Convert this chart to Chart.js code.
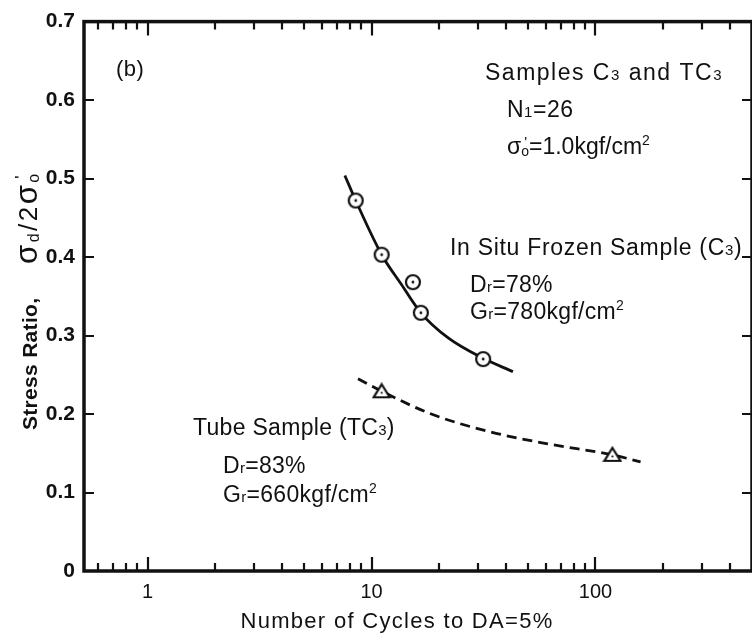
<!DOCTYPE html>
<html>
<head>
<meta charset="utf-8">
<script src="https://cdn.jsdelivr.net/npm/chart.js@4.4.1/dist/chart.umd.min.js"></script>
<style>
  html, body { margin: 0; padding: 0; background: #fff; overflow: hidden; }
  #wrap { width: 760px; height: 635px; }
</style>
</head>
<body>
<div id="wrap"><canvas id="chart" width="760" height="635"></canvas></div>
<script>
// values (x: cycles to DA=5%, y: stress ratio)
const c3Cycles = [8.5, 11.1, 15.3, 16.6, 31.5];
const c3Ratio = [0.472, 0.403, 0.368, 0.329, 0.270];
const tc3Cycles = [11.1, 119];
const tc3Ratio = [0.229, 0.148];

// fitted curves as drawn in the figure
const c3CurveCycles = [7.6, 8.5, 11.1, 13.6, 16.6, 22.0, 31.5, 42.8];
const c3CurveRatio = [0.504, 0.472, 0.403, 0.365, 0.329, 0.297, 0.271, 0.254];
const tc3CurveCycles = [8.7, 11.1, 18.5, 33.1, 61.2, 119, 159];
const tc3CurveRatio = [0.245, 0.229, 0.200, 0.178, 0.162, 0.148, 0.139];

// axes
const xRange = [0.52, 500];
const yRange = [0, 0.7];
const xTickValues = [0.6, 0.7, 0.8, 0.9, 1, 2, 3, 4, 5, 6, 7, 8, 9, 10,
  20, 30, 40, 50, 60, 70, 80, 90, 100, 200, 300, 400];
const xLabels = [1, 10, 100];

const FONT = '"Liberation Sans", Arial, sans-serif';
const INK = '#111';

function pts(xs, ys) {
  return xs.map((v, i) => ({ x: v, y: ys[i] }));
}

// marker images: open circle / open triangle with a dot in the middle
function circleMarker() {
  const c = document.createElement('canvas');
  c.width = 20; c.height = 20;
  const g = c.getContext('2d');
  g.fillStyle = '#fff'; g.strokeStyle = INK; g.lineWidth = 2.2;
  g.beginPath(); g.arc(10, 10, 7, 0, Math.PI * 2); g.fill(); g.stroke();
  g.fillStyle = INK;
  g.beginPath(); g.arc(10, 10, 1.4, 0, Math.PI * 2); g.fill();
  return c;
}
function triangleMarker() {
  const c = document.createElement('canvas');
  c.width = 20; c.height = 18;
  const g = c.getContext('2d');
  g.fillStyle = '#fff'; g.strokeStyle = INK; g.lineWidth = 2.2;
  g.beginPath(); g.moveTo(10, 2); g.lineTo(18, 15); g.lineTo(2, 15); g.closePath();
  g.fill(); g.stroke();
  g.fillStyle = INK;
  g.beginPath(); g.arc(10, 10.5, 1.1, 0, Math.PI * 2); g.fill();
  return c;
}

// text with sub/superscripts: parts = [{t, s, dy, dx, hold, bold}]
function drawRich(ctx, x, y, parts, size, ls) {
  let cx = x;
  ctx.letterSpacing = (ls || 0) + 'px';
  parts.forEach(p => {
    ctx.font = (p.bold ? 'bold ' : '') + (p.s || size) + 'px ' + FONT;
    ctx.fillText(p.t, cx + (p.dx || 0), y + (p.dy || 0));
    if (!p.hold) cx += ctx.measureText(p.t).width;
  });
  ctx.letterSpacing = '0px';
}

const notes = [
  { x: 116, y: 76, size: 22, ls: 0.5, parts: [{ t: '(b)' }] },
  { x: 485, y: 80, size: 23, ls: 1.5, parts: [{ t: 'Samples C' }, { t: '3', s: 15 }, { t: ' and TC' }, { t: '3', s: 15 }] },
  { x: 507, y: 117, size: 23, ls: 0.5, parts: [{ t: 'N' }, { t: '1', s: 15 }, { t: '=26' }] },
  { x: 507, y: 154, size: 23, ls: 0, parts: [{ t: 'σ' }, { t: '\'', s: 15, dy: -7, dx: 3, hold: true }, { t: 'o', s: 14, dy: 2 }, { t: '=1.0kgf/cm' }, { t: '2', s: 14, dy: -9 }] },
  { x: 450, y: 255, size: 23, ls: 0.7, parts: [{ t: 'In Situ Frozen Sample (C' }, { t: '3', s: 15 }, { t: ')' }] },
  { x: 470, y: 292, size: 23, ls: 0.3, parts: [{ t: 'D' }, { t: 'r', s: 15 }, { t: '=78%' }] },
  { x: 470, y: 319, size: 23, ls: 0.3, parts: [{ t: 'G' }, { t: 'r', s: 15 }, { t: '=780kgf/cm' }, { t: '2', s: 14, dy: -9 }] },
  { x: 193, y: 435, size: 23, ls: 0.3, parts: [{ t: 'Tube Sample (TC' }, { t: '3', s: 15 }, { t: ')' }] },
  { x: 223, y: 473, size: 23, ls: 0.3, parts: [{ t: 'D' }, { t: 'r', s: 15 }, { t: '=83%' }] },
  { x: 223, y: 502, size: 23, ls: 0.3, parts: [{ t: 'G' }, { t: 'r', s: 15 }, { t: '=660kgf/cm' }, { t: '2', s: 14, dy: -9 }] }
];

const framePlugin = {
  id: 'frame',
  afterDraw(chart) {
    const { ctx, chartArea: a, scales: { x, y } } = chart;
    ctx.save();
    ctx.strokeStyle = INK;
    ctx.lineWidth = 3.5;
    ctx.strokeRect(a.left, a.top, a.right - a.left, a.bottom - a.top);

    // inward tick marks on all four sides
    ctx.lineWidth = 2.2;
    ctx.beginPath();
    y.ticks.forEach(t => {
      if (t.value <= y.min || t.value >= y.max) return;
      const py = Math.round(y.getPixelForValue(t.value));
      ctx.moveTo(a.left, py); ctx.lineTo(a.left + 10, py);
      ctx.moveTo(a.right, py); ctx.lineTo(a.right - 10, py);
    });
    x.ticks.forEach(t => {
      const len = xLabels.includes(t.value) ? 14 : 8;
      const px = Math.round(x.getPixelForValue(t.value));
      ctx.moveTo(px, a.top); ctx.lineTo(px, a.top + len);
      ctx.moveTo(px, a.bottom); ctx.lineTo(px, a.bottom - len);
    });
    ctx.stroke();

    // annotations
    ctx.fillStyle = INK;
    ctx.textBaseline = 'alphabetic';
    ctx.textAlign = 'left';
    notes.forEach(n => drawRich(ctx, n.x, n.y, n.parts, n.size, n.ls));

    // x axis title
    ctx.font = '22px ' + FONT;
    ctx.letterSpacing = '1.3px';
    ctx.textAlign = 'center';
    ctx.fillText('Number of Cycles to DA=5%', 397, 628);
    ctx.letterSpacing = '0px';
    ctx.textAlign = 'left';

    // y axis title, rotated
    ctx.translate(37, 430);
    ctx.rotate(-Math.PI / 2);
    drawRich(ctx, 0, 0, [{ t: 'Stress Ratio,', bold: true }], 21, 0.3);
    drawRich(ctx, 166, 0, [
      { t: 'σ', s: 31 }, { t: 'd', s: 16, dy: 2 }, { t: '/2', s: 26 },
      { t: 'σ', s: 31 }, { t: '\'', s: 17, dy: -10, dx: 4, hold: true }, { t: 'o', s: 16, dy: 2 }
    ], 26, 2.5);
    ctx.restore();
  }
};

new Chart(document.getElementById('chart'), {
  type: 'scatter',
  data: {
    datasets: [
      {
        label: 'In Situ Frozen Sample (C3)',
        data: pts(c3Cycles, c3Ratio),
        pointStyle: circleMarker(),
        pointRadius: 7,
        showLine: false
      },
      {
        label: 'Tube Sample (TC3)',
        data: pts(tc3Cycles, tc3Ratio),
        pointStyle: triangleMarker(),
        pointRadius: 7,
        showLine: false
      },
      {
        label: 'C3 curve',
        data: pts(c3CurveCycles, c3CurveRatio),
        showLine: true,
        pointRadius: 0,
        borderColor: INK,
        borderWidth: 2.8,
        cubicInterpolationMode: 'monotone'
      },
      {
        label: 'TC3 curve',
        data: pts(tc3CurveCycles, tc3CurveRatio),
        showLine: true,
        pointRadius: 0,
        borderColor: INK,
        borderWidth: 2.8,
        borderDash: [10, 6],
        cubicInterpolationMode: 'monotone'
      }
    ]
  },
  options: {
    responsive: false,
    animation: false,
    devicePixelRatio: 1,
    layout: { padding: { left: 0, top: 19, right: 5, bottom: 0 } },
    plugins: {
      legend: { display: false },
      tooltip: { enabled: false }
    },
    scales: {
      x: {
        type: 'logarithmic',
        min: xRange[0],
        max: xRange[1],
        grid: { display: false, drawTicks: false },
        border: { display: false },
        afterBuildTicks: s => { s.ticks = xTickValues.map(v => ({ value: v })); },
        afterFit: s => { s.height = 64; },
        ticks: {
          autoSkip: false,
          maxRotation: 0,
          padding: 9,
          color: INK,
          font: { family: FONT, size: 20 },
          callback: v => (xLabels.includes(v) ? String(v) : '')
        }
      },
      y: {
        min: yRange[0],
        max: yRange[1],
        grid: { display: false, drawTicks: false },
        border: { display: false },
        afterFit: s => { s.width = 84; },
        ticks: {
          stepSize: 0.1,
          padding: 9,
          color: INK,
          font: { family: FONT, size: 21, weight: 'bold' },
          callback: v => (v === 0 ? '0' : v.toFixed(1))
        }
      }
    }
  },
  plugins: [framePlugin]
});
</script>
</body>
</html>
